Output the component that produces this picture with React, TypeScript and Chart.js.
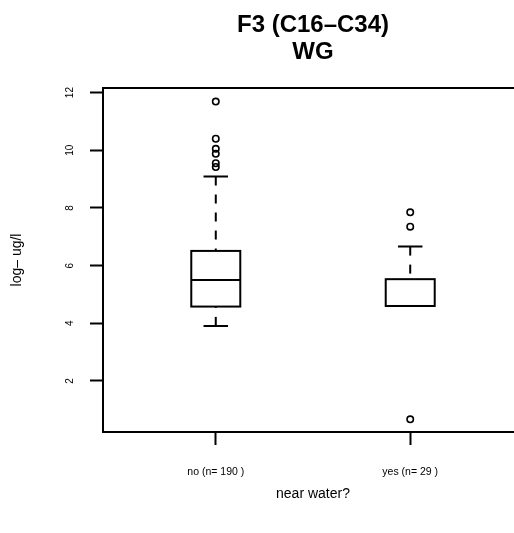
import React, { useEffect, useRef } from 'react';
import { Chart, registerables } from 'chart.js';

Chart.register(...registerables);

// ---- data ----
const titleLines = ['F3 (C16–C34)', 'WG'];
const categories = ['no (n= 190 )', 'yes (n= 29 )'];
const categoryPositions = [1, 2];
const whiskerLow = [3.91, 4.6];
const quartile1 = [4.58, 4.6];
const medians = [5.5, 4.6];
const quartile3 = [6.51, 5.53];
const whiskerHigh = [9.09, 6.66];
const outliersNo = [11.69, 10.4, 10.05, 9.88, 9.55, 9.42];
const outliersYes = [7.85, 7.35, 0.67];
const yTicks = [2, 4, 6, 8, 10, 12];
const yRange = [0.23, 12.16];
const xRange = [0.42, 2.58];
const yTitle = 'log– ug/l';
const xTitle = 'near water?';

// ---- style ----
const FONT = '"Liberation Sans", Arial, Helvetica, sans-serif';
const BOX_HALF = 0.126;
const CAP_HALF = 0.063;
const LINE_W = 2;
const TITLE_TOP = 25;
const TITLE_STEP = 27;

const boxPlugin = {
  id: 'rBoxplot',
  afterDatasetsDraw(chart: any) {
    const { ctx, chartArea, scales } = chart;
    const x = scales.x;
    const y = scales.y;
    ctx.save();
    ctx.strokeStyle = '#000';
    ctx.lineWidth = LINE_W;
    ctx.lineCap = 'butt';
    // top and right of the frame
    ctx.beginPath();
    ctx.moveTo(chartArea.left - 1, chartArea.top);
    ctx.lineTo(chartArea.right, chartArea.top);
    ctx.lineTo(chartArea.right, chartArea.bottom);
    ctx.stroke();

    categoryPositions.forEach((pos, i) => {
      const xc = x.getPixelForValue(pos);
      const xl = x.getPixelForValue(pos - BOX_HALF);
      const xr = x.getPixelForValue(pos + BOX_HALF);
      const cl = x.getPixelForValue(pos - CAP_HALF);
      const cr = x.getPixelForValue(pos + CAP_HALF);
      const yLo = y.getPixelForValue(whiskerLow[i]);
      const yQ1 = y.getPixelForValue(quartile1[i]);
      const yMed = y.getPixelForValue(medians[i]);
      const yQ3 = y.getPixelForValue(quartile3[i]);
      const yHi = y.getPixelForValue(whiskerHigh[i]);

      ctx.setLineDash([9, 9]);
      ctx.beginPath();
      ctx.moveTo(xc, yHi);
      ctx.lineTo(xc, yQ3);
      ctx.stroke();
      ctx.beginPath();
      ctx.moveTo(xc, yLo);
      ctx.lineTo(xc, yQ1);
      ctx.stroke();
      ctx.setLineDash([]);

      ctx.beginPath();
      ctx.moveTo(cl, yHi);
      ctx.lineTo(cr, yHi);
      ctx.moveTo(cl, yLo);
      ctx.lineTo(cr, yLo);
      ctx.stroke();

      ctx.fillStyle = '#fff';
      ctx.fillRect(xl, yQ3, xr - xl, yQ1 - yQ3);
      ctx.strokeRect(xl, yQ3, xr - xl, yQ1 - yQ3);
      ctx.beginPath();
      ctx.moveTo(xl, yMed);
      ctx.lineTo(xr, yMed);
      ctx.stroke();
    });
    ctx.restore();
  },
  afterDraw(chart: any) {
    const { ctx, chartArea } = chart;
    const cx = (chartArea.left + chartArea.right) / 2;
    ctx.save();
    ctx.fillStyle = '#000';
    ctx.font = `bold 24px ${FONT}`;
    ctx.textAlign = 'center';
    ctx.textBaseline = 'middle';
    titleLines.forEach((t, i) => ctx.fillText(t, cx, TITLE_TOP + i * TITLE_STEP));
    ctx.restore();
  },
};

export default function App() {
  const ref = useRef<HTMLCanvasElement>(null);
  useEffect(() => {
    const canvas = ref.current;
    if (!canvas) return;
    Chart.defaults.font.family = FONT;
    const points = [
      ...outliersNo.map((v) => ({ x: categoryPositions[0], y: v })),
      ...outliersYes.map((v) => ({ x: categoryPositions[1], y: v })),
    ];
    const chart = new Chart(canvas, {
      type: 'scatter',
      data: {
        datasets: [
          {
            data: points,
            pointStyle: 'circle',
            pointRadius: 3.2,
            pointBorderWidth: 1.6,
            borderColor: '#000',
            backgroundColor: 'rgba(0,0,0,0)',
            pointBorderColor: '#000',
            pointBackgroundColor: 'rgba(0,0,0,0)',
          },
        ],
      },
      options: {
        responsive: false,
        animation: false,
        devicePixelRatio: 1,
        layout: { padding: { top: 88, right: 7, left: 0, bottom: 0 } },
        plugins: {
          legend: { display: false },
          title: { display: false },
          tooltip: { enabled: false },
        },
        scales: {
          x: {
            type: 'linear',
            min: xRange[0],
            max: xRange[1],
            afterBuildTicks: (s: any) => {
              s.ticks = categoryPositions.map((v) => ({ value: v }));
            },
            afterFit: (s: any) => {
              s.height = 101;
            },
            ticks: {
              autoSkip: false,
              maxRotation: 0,
              minRotation: 0,
              padding: 21,
              color: '#000',
              font: { size: 10.5 },
              callback: (v: any) => {
                const i = categoryPositions.indexOf(Number(v));
                return i >= 0 ? categories[i] : '';
              },
            },
            grid: {
              drawOnChartArea: false,
              drawTicks: true,
              tickLength: 13,
              tickWidth: 2,
              tickColor: '#000',
            },
            border: { display: true, color: '#000', width: 2 },
            title: {
              display: true,
              text: xTitle,
              color: '#000',
              font: { size: 14 },
              padding: { top: 0, bottom: 30 },
            },
          },
          y: {
            type: 'linear',
            min: yRange[0],
            max: yRange[1],
            afterBuildTicks: (s: any) => {
              s.ticks = yTicks.map((v) => ({ value: v }));
            },
            afterFit: (s: any) => {
              s.width = 103;
            },
            ticks: {
              autoSkip: false,
              minRotation: 90,
              maxRotation: 90,
              crossAlign: 'center',
              padding: 14,
              color: '#000',
              font: { size: 10 },
              callback: (v: any) => String(v),
            },
            grid: {
              drawOnChartArea: false,
              drawTicks: true,
              tickLength: 13,
              tickWidth: 2,
              tickColor: '#000',
            },
            border: { display: true, color: '#000', width: 2 },
            title: {
              display: true,
              text: yTitle,
              color: '#000',
              font: { size: 14 },
              padding: { top: 8.6, bottom: 0 },
            },
          },
        },
      },
      plugins: [boxPlugin],
    } as any);
    return () => chart.destroy();
  }, []);

  return (
    <div
      style={{
        position: 'fixed',
        left: 0,
        top: 0,
        width: 514,
        height: 533,
        overflow: 'hidden',
        background: '#fff',
      }}
    >
      <canvas ref={ref} width={530} height={533} style={{ width: 530, height: 533, display: 'block' }} />
    </div>
  );
}
